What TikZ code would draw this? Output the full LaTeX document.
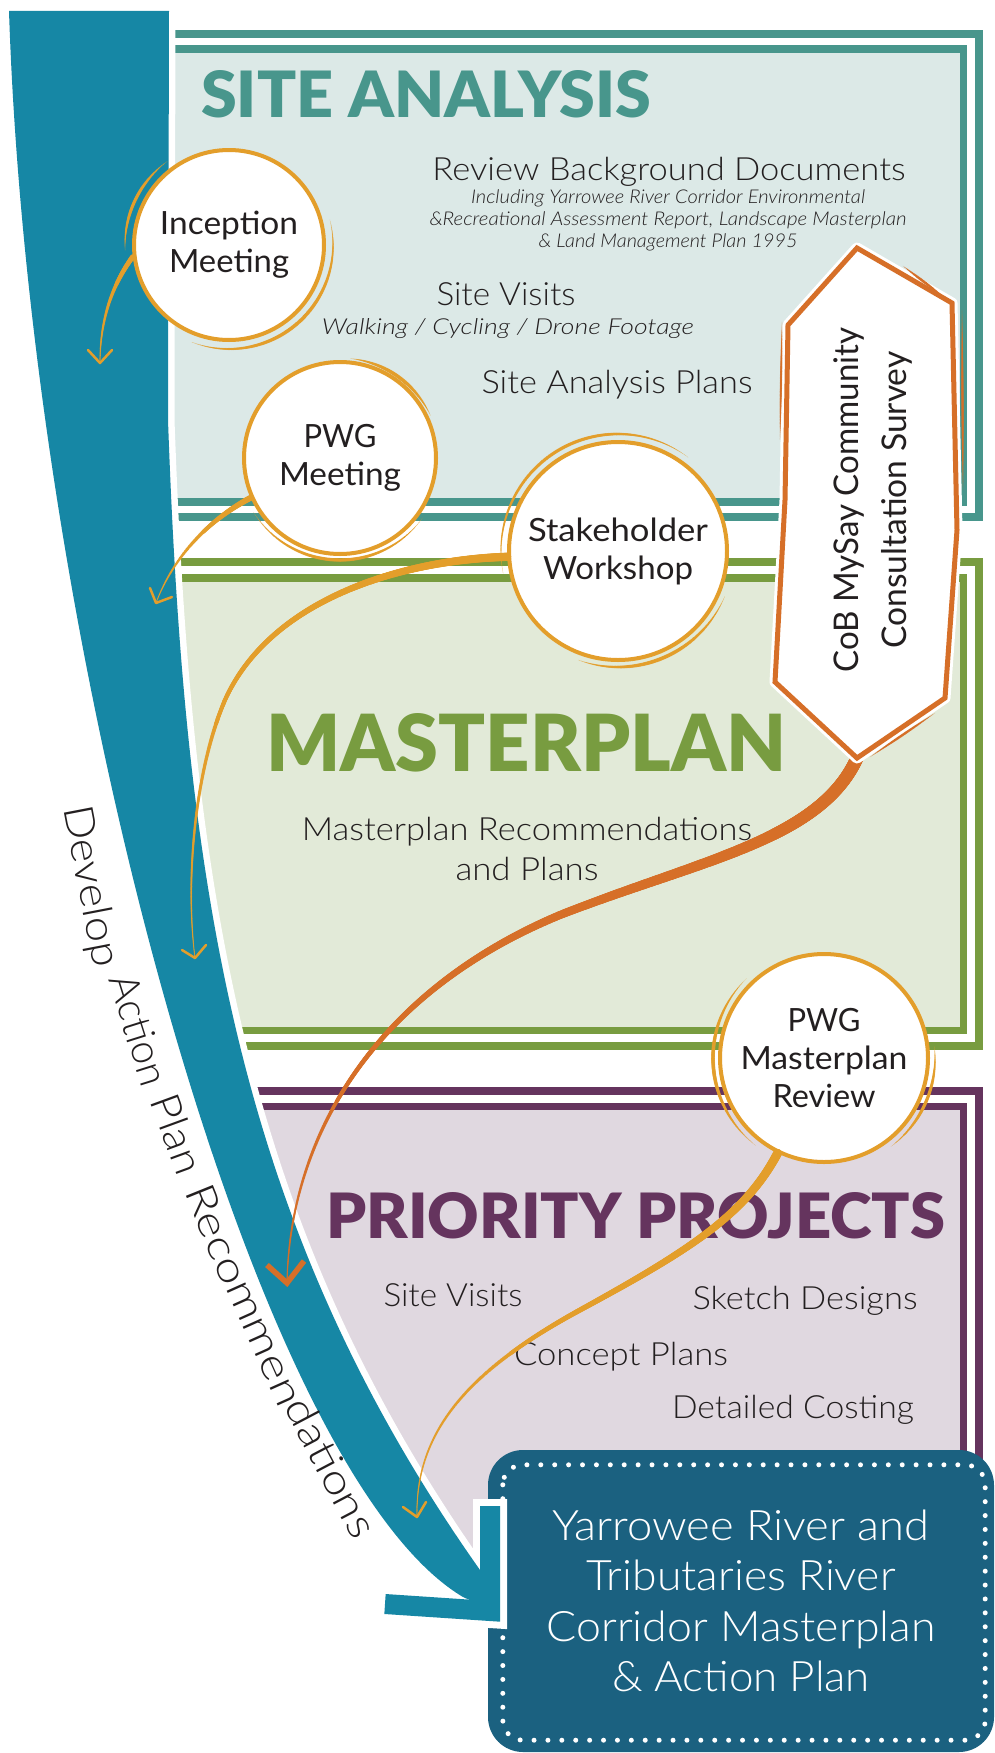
\documentclass[tikz,border=0pt]{standalone}
\usepackage{fontspec}
\setmainfont{Lato}
\IfFontExistsTF{Lato Light}{\newfontfamily\lightfont{Lato Light}}{\newfontfamily\lightfont{Lato}}
\IfFontExistsTF{Lato Light Italic}{\newfontfamily\lightit{Lato Light Italic}}{\newfontfamily\lightit{Lato Italic}}
\IfFontExistsTF{Lato Black}{\newfontfamily\heavyfont{Lato Black}}{\newfontfamily\heavyfont{Lato Bold}}
\usepackage{graphicx}
\usetikzlibrary{calc,decorations.markings}
\definecolor{tealline}{HTML}{48968C}
\definecolor{tealfill}{HTML}{DCE9E7}
\definecolor{greenline}{HTML}{789C40}
\definecolor{greenfill}{HTML}{E2EAD8}
\definecolor{purpline}{HTML}{65345E}
\definecolor{purpfill}{HTML}{E0D8E0}
\definecolor{bandblue}{HTML}{1687A5}
\definecolor{finalblue}{HTML}{1B6180}
\definecolor{circorange}{HTML}{E39E2B}
\definecolor{coborange}{HTML}{D66F28}
\definecolor{ink}{HTML}{231F20}
\newcommand\fw[2]{\resizebox{#1pt}{\height}{#2}}
\newcommand\fs[2]{\fontsize{#1}{#2}\selectfont}
\tikzset{
 taper/.style n args={3}{postaction={decorate,decoration={markings,
   mark=between positions 0 and 1 step 0.7pt with {\pgfmathsetmacro\tw{#1+(#2-#1)*(\pgfkeysvalueof{/pgf/decoration/mark info/distance from start}/\pgfdecoratedpathlength)}\fill[#3] (0,0) circle[radius=\tw pt];}}}},
 brush/.style n args={2}{postaction={decorate,decoration={markings,
   mark=between positions 0 and 1 step 0.7pt with {\pgfmathsetmacro\tw{0.15+#1*sin(180*(\pgfkeysvalueof{/pgf/decoration/mark info/distance from start}/\pgfdecoratedpathlength))}\fill[#2] (0,0) circle[radius=\tw pt];}}}},
 circnode/.style={circle, draw=circorange, line width=4, fill=white, text=ink, align=center, inner sep=0, font=\fs{32}{38}},
 chev/.style={draw=#1, line width=2.5, line cap=round, line join=round},
 bodytxt/.style={text=ink, inner sep=0, anchor=base, font=\lightfont\fs{32}{38}},
 ittxt/.style={text=ink, inner sep=0, anchor=base, font=\lightit\fs{#1}{#1}},
 titletxt/.style={inner sep=0, anchor=base west, text=#1},
 bandword/.style={sloped, anchor=base west, inner sep=0, text=ink, font=\lightfont\fs{41}{41}},
}
\begin{document}
\begin{tikzpicture}[x=1pt,y=-1pt]
\useasboundingbox (0,0) rectangle (995,1753);

% ---------- phase boxes ----------
\begin{scope}
\clip (150,0) -- (169,11) -- (168,420) .. controls (185,900) and (240,1230) .. (480,1570) -- (488,1575) -- (488,1700) -- (1000,1700) -- (1000,0) -- cycle;
\fill[tealfill] (100,49) rectangle (963.5,502);
\draw[tealline, line width=8] (100,34) -- (978.5,34) -- (978.5,517) -- (100,517);
\draw[tealline, line width=7.5] (100,49) -- (963.5,49) -- (963.5,502) -- (100,502);
\fill[greenfill] (100,578) rectangle (963.5,1030.5);
\draw[greenline, line width=8] (100,562) -- (978.5,562) -- (978.5,1045.5) -- (100,1045.5);
\draw[greenline, line width=7.5] (100,578) -- (963.5,578) -- (963.5,1030.5) -- (100,1030.5);
\fill[purpfill] (100,1106.5) rectangle (963.5,1600);
\draw[purpline, line width=8] (100,1091) -- (978.5,1091) -- (978.5,1600);
\draw[purpline, line width=7.5] (100,1106.5) -- (963.5,1106.5) -- (963.5,1600);
\end{scope}

% ---------- titles ----------
\node[titletxt=tealline, font=\heavyfont\fs{66}{70}] (t1) at (201,117) {\resizebox{450pt}{47pt}{SITE ANALYSIS}};
\node[titletxt=greenline, font=\heavyfont\fs{81}{85}] (t2) at (266,771) {\resizebox{520pt}{58pt}{MASTERPLAN}};
\node[titletxt=purpline, font=\heavyfont\fs{64}{68}] (t3) at (326,1238) {\resizebox{619pt}{46pt}{PRIORITY PROJECTS}};

% ---------- box texts ----------
\node[bodytxt] (rbd) at (669,180) {\fw{473}{Review Background Documents}};
\node[ittxt=19] (il1) at (668,203) {\fw{394}{Including Yarrowee River Corridor Environmental}};
\node[ittxt=19] (il2) at (668,225) {\fw{477}{\&Recreational Assessment Report, Landscape Masterplan}};
\node[ittxt=19] (il3) at (668,247) {\fw{259}{\& Land Management Plan 1995}};
\node[bodytxt] (sv1) at (506,305) {\fw{139}{Site Visits}};
\node[ittxt=22] (walk) at (508,334) {\fw{372}{Walking / Cycling / Drone Footage}};
\node[bodytxt] (sap) at (617,393) {\fw{271}{Site Analysis Plans}};
\node[bodytxt] (mr1) at (527,840) {\fw{450}{Masterplan Recommendations}};
\node[bodytxt] (mr2) at (527,880) {\fw{143}{and Plans}};
\node[bodytxt] (pv) at (453,1306) {\fw{139}{Site Visits}};
\node[bodytxt] (sd) at (805,1309) {\fw{225}{Sketch Designs}};
\node[bodytxt] (cp) at (621,1365) {\fw{214}{Concept Plans}};
\node[bodytxt] (dc) at (793,1418) {\fw{242}{Detailed Costing}};

% ---------- final box ----------
\node[fill=finalblue, rounded corners=35, minimum width=506, minimum height=302, inner sep=0, text=white, align=center, font=\lightfont\fs{42}{50.5}] (final) at (741,1601)
 {\fw{377}{Yarrowee River and}\\\fw{309}{Tributaries River}\\\fw{389}{Corridor Masterplan}\\\fw{258}{\& Action Plan}};
\draw[white, line width=5, line cap=round, dash pattern=on 0pt off 13.9pt, rounded corners=20]
 ($(final.north west)+(15,15)$) rectangle ($(final.south east)+(-9,-12)$);

% ---------- big band arrow ----------
\coordinate (Lh) at (385,1604);
\coordinate (Lc) at (490,1611);
\coordinate (Lv) at (490,1506);
\draw[white, line width=34] (378,1604) -- (Lc) -- (490,1499);
\draw[white, line width=13, line join=round] (9,11) -- (169,11) -- (168,420) .. controls (185,900) and (240,1230) .. (480,1570) -- (492,1610) -- (463,1597) .. controls (250,1470) and (30,650) .. (9,11) -- cycle;
\fill[bandblue] (9,11) -- (169,11) -- (168,420) .. controls (185,900) and (240,1230) .. (480,1570) -- (492,1610) -- (463,1597) .. controls (250,1470) and (30,650) .. (9,11) -- cycle;
\draw[bandblue, line width=20] (Lh) -- (Lc) -- (Lv);

\path (63,808) .. controls (100,1000) and (240,1370) .. (362,1537)
  node[bandword, pos=0] (w1) {\fw{163.5}{Develop}}
  node[bandword, pos=0.2502] (w2) {\fw{114.5}{Action}}
  node[bandword, pos=0.401] (w3) {\fw{82}{Plan}}
  node[bandword, pos=0.511] (w4) {\fw{104.3}{Reco}}
  node[bandword, pos=0.6294] (w5) {\fw{133.4}{mmen}}
  node[bandword, pos=0.7875] (w6) {\fw{152.3}{dations}};

% ---------- meeting circles ----------
\node[circnode, minimum size=190] (inc) at (229,245) {\fw{138}{Inception}\\\fw{120}{Meeting}};
\node[circnode, minimum size=192] (pwg) at (340,458) {\fw{73}{PWG}\\\fw{122}{Meeting}};
\node[circnode, minimum size=218] (stk) at (618,551) {\fw{180}{Stakeholder}\\\fw{150}{Workshop}};
\node[circnode, minimum size=208] (pmr) at (824,1058) {\fw{73}{PWG}\\\fw{167}{Masterplan}\\\fw{103}{Review}};

\path[brush={1.6}{circorange}] ($(inc)+(177:104)$) arc[start angle=177, end angle=234, radius=104];
\path[brush={1.8}{circorange}] ($(inc)+(-14:104)$) arc[start angle=-14, end angle=111, radius=104];
\path[brush={1.8}{circorange}] ($(pwg)+(276:100)$) arc[start angle=276, end angle=335, radius=100];
\path[brush={1.6}{circorange}] ($(pwg)+(36:102)$) arc[start angle=36, end angle=148, radius=102];
\path[brush={1.6}{circorange}] ($(stk)+(169:117)$) arc[start angle=169, end angle=307, radius=117];
\path[brush={1.8}{circorange}] ($(stk)+(23:116)$) arc[start angle=23, end angle=110, radius=116];
\path[brush={1.8}{circorange}] ($(pmr)+(128:111)$) arc[start angle=128, end angle=226, radius=111];
\path[brush={1.6}{circorange}] ($(pmr)+(-6:111)$) arc[start angle=-6, end angle=53, radius=111];

% ---------- connectors ----------
\coordinate (incT) at (100,363);
\path[taper={2.6}{0.5}{circorange}] (inc.187) .. controls (112,285) and (100,320) .. (incT);
\draw[chev=circorange] (88,350) -- (incT) -- (112,350);

\coordinate (pwgT) at (156,603);
\path[taper={3}{0.5}{circorange}] (pwg.204.5) .. controls (205,522) and (172,560) .. (pwgT);
\draw[chev=circorange] (150,588) -- (pwgT) -- (172,597);

\coordinate (stkT) at (195,958);
\path[taper={4.2}{0.5}{circorange}] (stk.183.6) .. controls (400,560) and (270,600) .. (225,700) .. controls (195,770) and (185,880) .. (stkT);
\draw[chev=circorange] (182,950) -- (stkT) -- (206,945);

\coordinate (pmrT) at (417,1517);
\path[taper={4.5}{0.5}{circorange}] (pmr.244.6) .. controls (745,1215) and (690,1250) .. (580,1310) .. controls (470,1370) and (415,1430) .. (pmrT);
\draw[chev=circorange] (403,1507) -- (pmrT) -- (426,1502);

\coordinate (cobB) at (857,758);
\coordinate (cobT) at (287,1283);
\path[taper={6.5}{0.6}{coborange}] (cobB) .. controls (820,840) and (700,860) .. (560,915) .. controls (380,990) and (290,1130) .. (cobT);
\draw[coborange, line width=5.5] (267,1265) -- (cobT) -- (304,1261);

% ---------- survey shape ----------
\draw[white, line width=11, line join=round] (857,248) -- (952,303) -- (957,530) -- (945,698) -- (cobB) -- (775,682) -- (785,500) -- (788,325) -- cycle;
\draw[coborange, line width=5, fill=white] (857,248) -- (952,303) -- (957,530) -- (945,698) -- (cobB) -- (775,682) -- (785,500) -- (788,325) -- cycle;
\path[brush={1.3}{coborange}] (903,266) -- (944,297);
\path[brush={1.0}{coborange}] (782,322) -- (780,440);
\path[brush={1.1}{coborange}] (962,310) -- (963,490);
\path[brush={1.2}{coborange}] (870,757) -- (935,713);
\node[rotate=90, text=ink, align=center, inner sep=0, font=\fs{34}{48}] (cob) at (873,500)
 {\fw{345}{CoB MySay Community}\\\fw{297}{Consultation Survey}};
\end{tikzpicture}
\end{document}
